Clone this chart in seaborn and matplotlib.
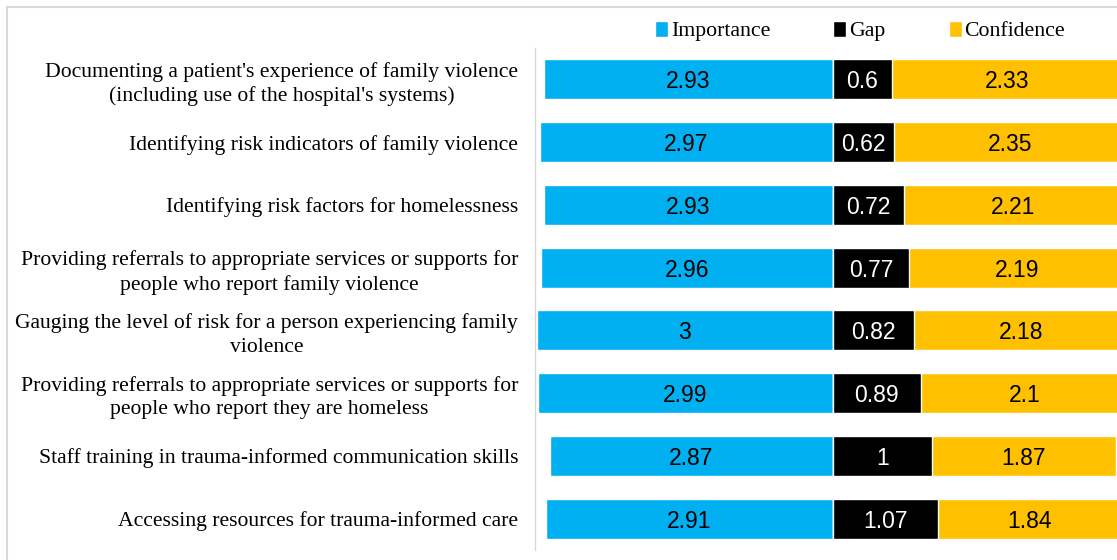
import matplotlib
matplotlib.use("Agg")
import matplotlib.pyplot as plt
import seaborn as sns
import numpy as np
import pandas as pd
from matplotlib.lines import Line2D
from matplotlib.patches import Patch

categories = [
    "Documenting a patient's experience of family violence\n(including use of the hospital's systems)",
    "Identifying risk indicators of family violence",
    "Identifying risk factors for homelessness",
    "Providing referrals to appropriate services or supports for\npeople who report family violence",
    "Gauging the level of risk for a person experiencing family\nviolence",
    "Providing referrals to appropriate services or supports for\npeople who report they are homeless",
    "Staff training in trauma-informed communication skills",
    "Accessing resources for trauma-informed care",
]
importance = [2.93, 2.97, 2.93, 2.96, 3, 2.99, 2.87, 2.91]
gap = [0.6, 0.62, 0.72, 0.77, 0.82, 0.89, 1, 1.07]
confidence = [2.33, 2.35, 2.21, 2.19, 2.18, 2.1, 1.87, 1.84]
series_names = ["Importance", "Gap", "Confidence"]

C_IMP = "#00B0F0"
C_GAP = "#000000"
C_CONF = "#FFC000"

sns.set_theme(style="white")
plt.rcParams['font.family'] = ['Liberation Serif', 'DejaVu Serif']
plt.rcParams['text.color'] = 'black'
plt.rcParams['ytick.color'] = 'black'

df = pd.DataFrame({
    "category": categories,
    "imp_neg": [-v for v in importance],
    "gap": gap,
    "gap_conf": [g + c for g, c in zip(gap, confidence)],
})

fig = plt.figure(figsize=(11.17, 5.6), dpi=100)
ax = fig.add_axes([535 / 1117, 1 - 550 / 560, (1117 - 535) / 1117, (550 - 48) / 560])

bw = 0.64
sns.barplot(data=df, x="imp_neg", y="category", color=C_IMP, width=bw,
            saturation=1, ax=ax, orient="h")
sns.barplot(data=df, x="gap_conf", y="category", color=C_CONF, width=bw,
            saturation=1, ax=ax, orient="h")
sns.barplot(data=df, x="gap", y="category", color=C_GAP, width=bw,
            saturation=1, ax=ax, orient="h")

label_font = dict(family=['Liberation Sans', 'DejaVu Sans'], fontsize=16.5)
for i, (im, g, c) in enumerate(zip(importance, gap, confidence)):
    ax.text(-im / 2, i, f"{im:g}", ha="center", va="center_baseline",
            color="black", **label_font)
    ax.text(g / 2, i, f"{g:g}", ha="center", va="center_baseline",
            color="white", **label_font)
    ax.text(g + c / 2, i, f"{c:g}", ha="center", va="center_baseline",
            color="black", **label_font)

ax.set_xlim(-3.02, 2.88)
ax.set_ylim(len(categories) - 0.5, -0.5)
ax.set_xlabel("")
ax.set_ylabel("")
ax.set_xticks([])
ax.tick_params(axis="y", length=0, pad=12, labelsize=15.6, labelcolor="black")
for lbl in ax.get_yticklabels():
    lbl.set_multialignment("center")
    lbl.set_linespacing(1.3)
for s in ["top", "right", "bottom"]:
    ax.spines[s].set_visible(False)
ax.spines["left"].set_color("#D9D9D9")
ax.spines["left"].set_linewidth(1)

handles = [Patch(facecolor=C_IMP), Patch(facecolor=C_GAP), Patch(facecolor=C_CONF)]
fig.legend(handles, series_names, loc="center", ncol=3, frameon=False,
           bbox_to_anchor=(860 / 1117, 1 - 31 / 560), fontsize=15.7,
           handlelength=0.6, handleheight=0.8, handletextpad=0.12,
           columnspacing=2.9)

# outer frame lines
fig.add_artist(Line2D([7 / 1117, 1], [1 - 7 / 560, 1 - 7 / 560], color="#D9D9D9",
                      lw=1.5, transform=fig.transFigure))
fig.add_artist(Line2D([7 / 1117, 7 / 1117], [0, 1 - 7 / 560], color="#D9D9D9",
                      lw=1.5, transform=fig.transFigure))

fig.savefig("out.png", dpi=100, facecolor="white")
